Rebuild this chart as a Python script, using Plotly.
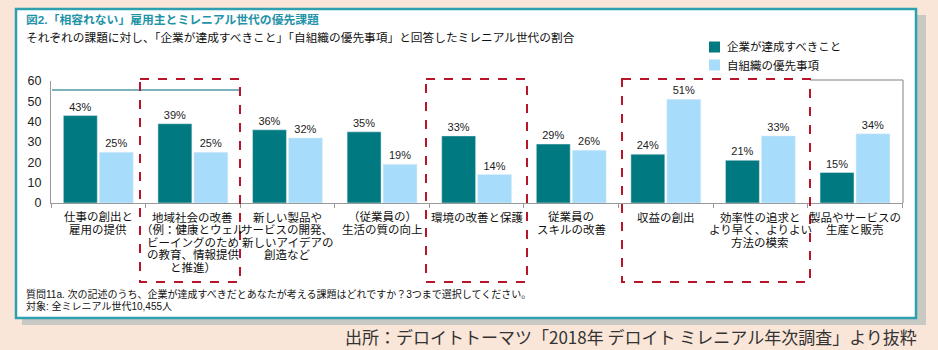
import plotly.graph_objects as go

categories = [
    "仕事の創出と\n雇用の提供",
    "地域社会の改善\n（例：健康とウェル\nビーイングのため\nの教育、情報提供\nと推進）",
    "新しい製品や\nサービスの開発、\n新しいアイデアの\n創造など",
    "（従業員の）\n生活の質の向上",
    "環境の改善と保護",
    "従業員の\nスキルの改善",
    "収益の創出",
    "効率性の追求と\nより早く、よりよい\n方法の模索",
    "製品やサービスの\n生産と販売",
]
series_company = [43, 39, 36, 35, 33, 29, 24, 21, 15]
series_own = [25, 25, 32, 19, 14, 26, 51, 33, 34]
series_names = ["企業が達成すべきこと", "自組織の優先事項"]
y_ticks = [0, 10, 20, 30, 40, 50, 60]

W, H = 938, 350
L, R, T, B = 51, 903, 81, 203


def xp(px):
    return (px - L) / (R - L)


def yp(py):
    return (B - py) / (B - T)


FONT = "Liberation Sans, Arial, Noto Sans CJK JP, sans-serif"
DARK = "#007a80"
LIGHT = "#a8dcfb"
colors = [DARK, LIGHT]

cat_keys = [c.replace("\n", "") for c in categories]

fig = go.Figure()
for name, vals, col in zip(series_names, [series_company, series_own], colors):
    fig.add_trace(go.Bar(
        x=cat_keys, y=vals, name=name, marker_color=col,
        text=[f"{v}%" for v in vals], textposition="outside",
        textfont=dict(size=11, color="#222", family=FONT), cliponaxis=False,
        showlegend=False,
    ))

shapes = []
# shadow
shapes.append(dict(type="rect", xref="paper", yref="paper", layer="below",
                   x0=xp(22), x1=xp(926), y0=yp(15), y1=yp(325),
                   fillcolor="#c9c9c4", line=dict(width=0)))
# panel
shapes.append(dict(type="rect", xref="paper", yref="paper", layer="below",
                   x0=xp(16), x1=xp(916), y0=yp(9), y1=yp(318),
                   fillcolor="white", line=dict(color="#2ea0b0", width=2.5)))
# artifact frame lines
shapes.append(dict(type="line", xref="paper", yref="paper",
                   x0=xp(52), x1=xp(240), y0=yp(90), y1=yp(90),
                   line=dict(color="#4f98a4", width=1.5)))
shapes.append(dict(type="line", xref="paper", yref="paper",
                   x0=xp(810), x1=xp(903), y0=yp(80), y1=yp(80),
                   line=dict(color="#aaaaaa", width=1.5)))
shapes.append(dict(type="line", xref="paper", yref="paper",
                   x0=xp(903), x1=xp(903), y0=yp(80), y1=yp(203),
                   line=dict(color="#aaaaaa", width=1.5)))
# red dashed boxes
for x0, x1 in [(140, 240), (426, 527), (622, 810)]:
    shapes.append(dict(type="rect", xref="paper", yref="paper",
                       x0=xp(x0), x1=xp(x1), y0=yp(79), y1=yp(282),
                       line=dict(color="#b8152b", width=2, dash="dash"),
                       fillcolor="rgba(0,0,0,0)"))

annotations = []
# legend (squares + labels)
for i, (name, col) in enumerate(zip(series_names, colors)):
    cy = 47 + 18 * i
    shapes.append(dict(type="rect", xref="paper", yref="paper",
                       x0=xp(709), x1=xp(720), y0=yp(cy - 5.5), y1=yp(cy + 5.5),
                       fillcolor=col, line=dict(width=0)))
    annotations.append(dict(
        x=xp(725), y=yp(cy), xref="paper", yref="paper", xanchor="left", yanchor="middle",
        text=name, showarrow=False, font=dict(size=11.5, color="#111", family=FONT)))

# category labels
for key, lab in zip(cat_keys, categories):
    for i, line in enumerate(lab.split("\n")):
        annotations.append(dict(
            x=key, xref="x", y=yp(217 + 12.5 * i), yref="paper",
            text=line, showarrow=False, xanchor="center", yanchor="middle",
            font=dict(size=11.5, color="#111", family=FONT)))

annotations.append(dict(
    x=xp(24), y=yp(20), xref="paper", yref="paper", xanchor="left", yanchor="middle",
    text="<b>図2.「相容れない」雇用主とミレニアル世代の優先課題</b>", showarrow=False,
    font=dict(size=11.8, color="#1f93a8", family=FONT)))
annotations.append(dict(
    x=xp(24), y=yp(38), xref="paper", yref="paper", xanchor="left", yanchor="middle",
    text="それぞれの課題に対し、「企業が達成すべきこと」「自組織の優先事項」と回答したミレニアル世代の割合",
    showarrow=False, font=dict(size=11.7, color="#111", family=FONT)))
annotations.append(dict(
    x=xp(24), y=yp(294), xref="paper", yref="paper", xanchor="left", yanchor="middle",
    text="質問11a. 次の記述のうち、企業が達成すべきだとあなたが考える課題はどれですか？3つまで選択してください。",
    showarrow=False, font=dict(size=10, color="#111", family=FONT)))
annotations.append(dict(
    x=xp(24), y=yp(306), xref="paper", yref="paper", xanchor="left", yanchor="middle",
    text="対象: 全ミレニアル世代10,455人",
    showarrow=False, font=dict(size=10, color="#111", family=FONT)))
annotations.append(dict(
    x=xp(919), y=yp(336), xref="paper", yref="paper", xanchor="right", yanchor="middle",
    text="出所：デロイトトーマツ「2018年 デロイト ミレニアル年次調査」より抜粋",
    showarrow=False, font=dict(size=17, color="#333", family="Noto Sans CJK JP")))

fig.update_layout(
    width=W, height=H,
    margin=dict(l=L, r=W - R, t=T, b=H - B, autoexpand=False),
    paper_bgcolor="#fae6d8",
    plot_bgcolor="rgba(0,0,0,0)",
    barmode="group", bargap=0.24, bargroupgap=0.056,
    showlegend=False,
    shapes=shapes, annotations=annotations,
    font=dict(family=FONT),
)
fig.update_xaxes(showticklabels=False, showline=True, linecolor="#999", linewidth=1.2,
                 ticks="outside", tickson="boundaries", ticklen=4, tickcolor="#999",
                 showgrid=False, zeroline=False)
fig.update_yaxes(range=[0, 60], tickvals=y_ticks, showline=True, linecolor="#999",
                 linewidth=1.2, showgrid=False, zeroline=False, ticks="",
                 ticklabelstandoff=6,
                 tickfont=dict(size=12.5, color="#222", family=FONT))

fig.write_html("out.html")
